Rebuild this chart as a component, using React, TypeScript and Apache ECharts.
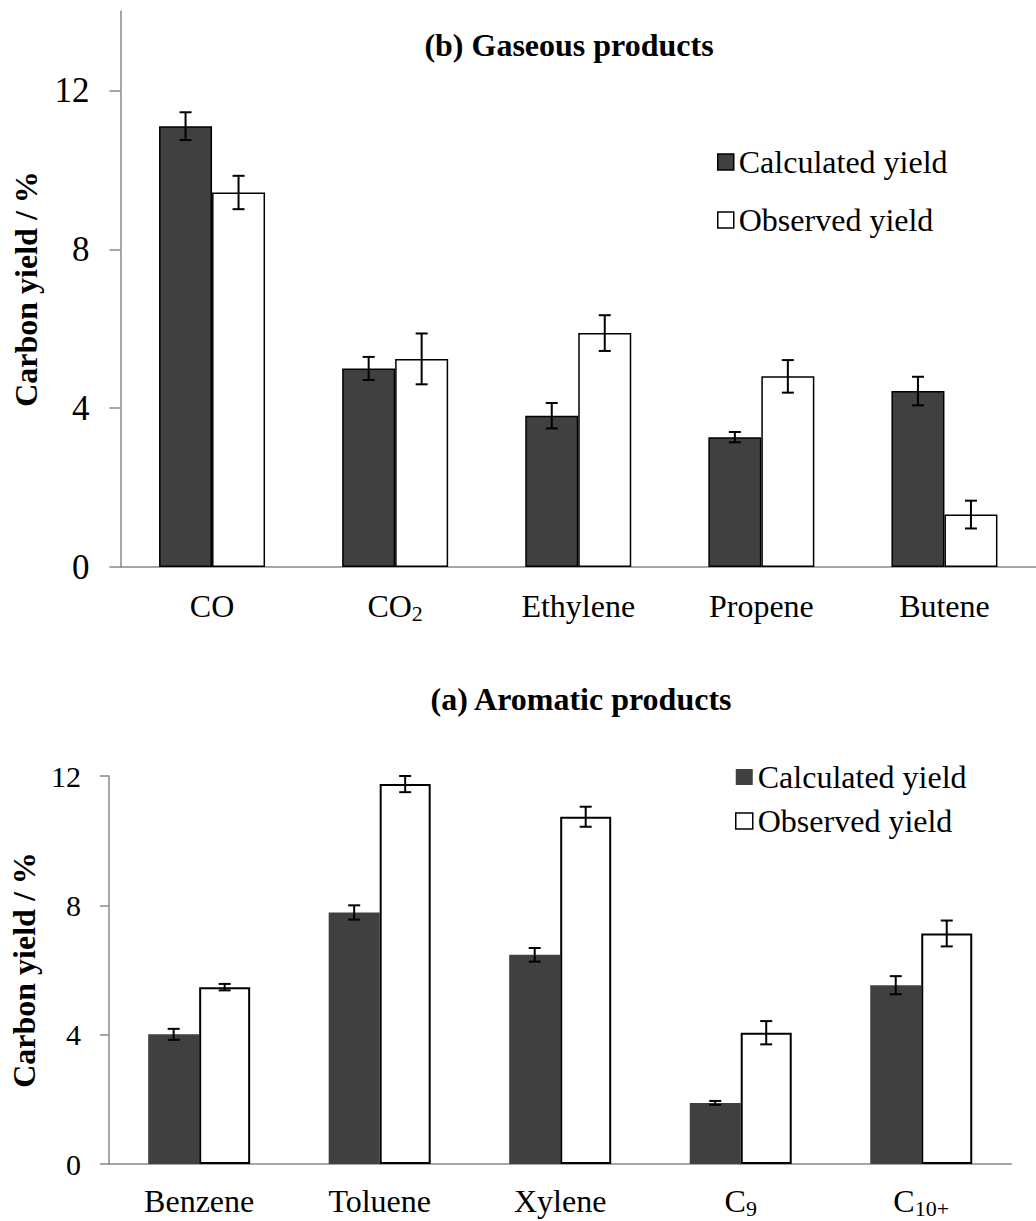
import React, { useEffect, useRef } from 'react';
import * as echarts from 'echarts';

// Gaseous products (upper panel)
const gasCategories = ['CO', 'CO₂', 'Ethylene', 'Propene', 'Butene'];
const gasCalculated = [11.1, 5.0, 3.81, 3.27, 4.43];
const gasCalculatedErr = [0.35, 0.29, 0.32, 0.13, 0.36];
const gasObserved = [9.43, 5.24, 5.89, 4.8, 1.32];
const gasObservedErr = [0.42, 0.64, 0.45, 0.41, 0.35];
const gasTicks = [0, 4, 8, 12];

// Aromatic products (lower panel)
const aroCategories = ['Benzene', 'Toluene', 'Xylene', 'C₉', 'C₁₀₊'];
const aroCalculated = [4.01, 7.78, 6.47, 1.89, 5.53];
const aroCalculatedErr = [0.17, 0.22, 0.21, 0.06, 0.28];
const aroObserved = [5.47, 11.75, 10.74, 4.06, 7.13];
const aroObservedErr = [0.1, 0.25, 0.31, 0.36, 0.4];
const aroTicks = [0, 4, 8, 12];

const seriesNames = ['Calculated yield', 'Observed yield'];
const titles = ['(b) Gaseous products', '(a) Aromatic products'];
const yName = 'Carbon yield / %';

const FONT = '"Liberation Serif", "Times New Roman", serif';
const DARK = '#404040';
const AXIS = '#888888';

const SUB: Record<string, string> = {
  '₀': '0', '₁': '1', '₂': '2', '₃': '3', '₄': '4',
  '₅': '5', '₆': '6', '₇': '7', '₈': '8', '₉': '9', '₊': '+',
};

// Split a category into its main text and its subscript part as rich text
const categoryFormatter = (v: string) => {
  let main = '';
  let sub = '';
  for (const ch of v) {
    if (SUB[ch]) sub += SUB[ch];
    else main += ch;
  }
  return sub ? `{m|${main}}{s|${sub}}` : `{m|${main}}`;
};

const categoryRich = {
  m: { fontSize: 32, fontFamily: FONT, color: '#000', lineHeight: 36 },
  s: { fontSize: 22, fontFamily: FONT, color: '#000', lineHeight: 22, verticalAlign: 'bottom' },
};

const errorBarRenderer = (offset: number, cap: number) => (params: any, api: any) => {
  const idx = api.value(0);
  const v = api.value(1);
  const e = api.value(2);
  const hi = api.coord([idx, v + e]);
  const lo = api.coord([idx, v - e]);
  const x = hi[0] + offset;
  const style = { stroke: '#000', lineWidth: 2 };
  return {
    type: 'group',
    children: [
      { type: 'line', shape: { x1: x, y1: hi[1], x2: x, y2: lo[1] }, style },
      { type: 'line', shape: { x1: x - cap / 2, y1: hi[1], x2: x + cap / 2, y2: hi[1] }, style },
      { type: 'line', shape: { x1: x - cap / 2, y1: lo[1], x2: x + cap / 2, y2: lo[1] }, style },
    ],
  };
};

const errorSeries = (
  axisIndex: number,
  values: number[],
  errs: number[],
  offset: number,
) => ({
  type: 'custom',
  xAxisIndex: axisIndex,
  yAxisIndex: axisIndex,
  z: 5,
  silent: true,
  encode: { x: 0, y: 1 },
  data: values.map((v, i) => [i, v, errs[i]]),
  renderItem: errorBarRenderer(offset, 12),
});

export default function App() {
  const ref = useRef<HTMLDivElement>(null);

  useEffect(() => {
    if (!ref.current) return;
    const chart = echarts.init(ref.current, undefined, { renderer: 'svg' });

    const axisLineStyle = { color: AXIS, width: 1.5 };
    const GAS_BAR = 53;
    const ARO_BAR = 51;

    chart.setOption({
      animation: false,
      backgroundColor: '#fff',
      graphic: [
        {
          type: 'text',
          x: 569,
          y: 45,
          style: {
            text: titles[0],
            fontSize: 32,
            fontWeight: 'bold',
            fontFamily: FONT,
            fill: '#000',
            align: 'center',
            verticalAlign: 'middle',
          },
        },
        {
          type: 'text',
          x: 581,
          y: 699,
          style: {
            text: titles[1],
            fontSize: 32,
            fontWeight: 'bold',
            fontFamily: FONT,
            fill: '#000',
            align: 'center',
            verticalAlign: 'middle',
          },
        },
      ],
      legend: [
        {
          orient: 'vertical',
          left: 712,
          top: 139,
          itemWidth: 16,
          itemHeight: 16,
          itemGap: 22,
          icon: 'rect',
          selectedMode: false,
          textStyle: { fontSize: 32, fontFamily: FONT, color: '#000', lineHeight: 36 },
          data: [
            { name: seriesNames[0], itemStyle: { color: DARK, borderColor: '#000', borderWidth: 1.5 } },
            { name: seriesNames[1], itemStyle: { color: '#fff', borderColor: '#000', borderWidth: 1.5 } },
          ],
        },
        {
          orient: 'vertical',
          left: 730,
          top: 754,
          itemWidth: 17,
          itemHeight: 16,
          itemGap: 8,
          icon: 'rect',
          selectedMode: false,
          textStyle: { fontSize: 32, fontFamily: FONT, color: '#000', lineHeight: 36 },
          data: [
            { name: seriesNames[0], itemStyle: { color: DARK, borderWidth: 0 } },
            { name: seriesNames[1], itemStyle: { color: '#fff', borderColor: '#000', borderWidth: 1.5 } },
          ],
        },
      ],
      grid: [
        { left: 120.5, top: 11, width: 925, height: 556 },
        { left: 108.5, top: 776, width: 903, height: 388 },
      ],
      xAxis: [
        {
          gridIndex: 0,
          type: 'category',
          data: gasCategories,
          axisLine: { lineStyle: axisLineStyle },
          axisTick: { show: false },
          axisLabel: { interval: 0, margin: 21, formatter: categoryFormatter, rich: categoryRich },
        },
        {
          gridIndex: 1,
          type: 'category',
          data: aroCategories,
          axisLine: { lineStyle: axisLineStyle },
          axisTick: { show: false },
          axisLabel: { interval: 0, margin: 19, formatter: categoryFormatter, rich: categoryRich },
        },
      ],
      yAxis: [
        {
          gridIndex: 0,
          type: 'value',
          min: 0,
          max: 14,
          interval: 4,
          name: yName,
          nameLocation: 'middle',
          nameRotate: 90,
          nameGap: 79,
          nameTextStyle: { fontSize: 32, fontWeight: 'bold', fontFamily: FONT, color: '#000' },
          splitLine: { show: false },
          axisLine: { show: true, lineStyle: axisLineStyle },
          axisTick: { show: true, length: 11, lineStyle: axisLineStyle, customValues: gasTicks },
          axisLabel: { fontSize: 35, fontFamily: FONT, color: '#000', margin: 31, customValues: gasTicks },
        },
        {
          gridIndex: 1,
          type: 'value',
          min: 0,
          max: 12,
          interval: 4,
          name: yName,
          nameLocation: 'middle',
          nameRotate: 90,
          nameGap: 68,
          nameTextStyle: { fontSize: 32, fontWeight: 'bold', fontFamily: FONT, color: '#000' },
          splitLine: { show: false },
          axisLine: { show: true, lineStyle: axisLineStyle },
          axisTick: { show: true, length: 9, lineStyle: axisLineStyle, customValues: aroTicks },
          axisLabel: { fontSize: 30, fontFamily: FONT, color: '#000', margin: 28, customValues: aroTicks },
        },
      ],
      series: [
        {
          type: 'bar',
          name: seriesNames[0],
          xAxisIndex: 0,
          yAxisIndex: 0,
          data: gasCalculated,
          barWidth: GAS_BAR,
          barGap: '0%',
          itemStyle: { color: DARK, borderColor: '#000', borderWidth: 1.5 },
        },
        {
          type: 'bar',
          name: seriesNames[1],
          xAxisIndex: 0,
          yAxisIndex: 0,
          data: gasObserved,
          barWidth: GAS_BAR,
          barGap: '0%',
          itemStyle: { color: '#fff', borderColor: '#000', borderWidth: 1.5 },
        },
        errorSeries(0, gasCalculated, gasCalculatedErr, -GAS_BAR / 2),
        errorSeries(0, gasObserved, gasObservedErr, GAS_BAR / 2),
        {
          type: 'bar',
          name: seriesNames[0],
          xAxisIndex: 1,
          yAxisIndex: 1,
          data: aroCalculated,
          barWidth: ARO_BAR,
          barGap: '0%',
          itemStyle: { color: DARK, borderWidth: 0 },
        },
        {
          type: 'bar',
          name: seriesNames[1],
          xAxisIndex: 1,
          yAxisIndex: 1,
          data: aroObserved,
          barWidth: ARO_BAR,
          barGap: '0%',
          itemStyle: { color: '#fff', borderColor: '#000', borderWidth: 2 },
        },
        errorSeries(1, aroCalculated, aroCalculatedErr, -ARO_BAR / 2),
        errorSeries(1, aroObserved, aroObservedErr, ARO_BAR / 2),
      ],
    });

    return () => chart.dispose();
  }, []);

  return (
    <div
      ref={ref}
      style={{ position: 'absolute', left: 0, top: 0, width: 1036, height: 1221, background: '#fff' }}
    />
  );
}
